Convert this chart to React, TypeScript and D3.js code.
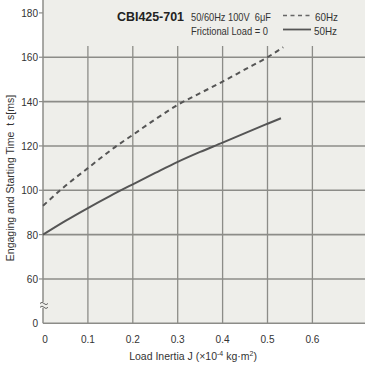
import * as d3 from "d3";

const W = 365;
const H = 366;

// load inertia J (x10^-4 kg·m²) vs engaging & starting time (ms)
const j60 = [0, 0.05, 0.1, 0.164, 0.2, 0.25, 0.3, 0.35, 0.4, 0.45, 0.5, 0.535];
const t60 = [93, 102, 110, 120, 125, 132, 138.5, 143.8, 149, 154.5, 160, 164.5];
const j50 = [0, 0.05, 0.1, 0.15, 0.2, 0.25, 0.3, 0.35, 0.4, 0.45, 0.5, 0.53];
const t50 = [80, 86.2, 92, 97.5, 102.7, 107.8, 112.8, 117.3, 121.5, 125.8, 130, 132.5];

const xTicks = [0, 0.1, 0.2, 0.3, 0.4, 0.5, 0.6];
const yTicks = [60, 80, 100, 120, 140, 160, 180];
// the axis is broken: "0" sits where 40 would be
const yBreakValue = 40;
const yBreakLabel = "0";

const FONT = "'Liberation Sans', Arial, sans-serif";

const App = () => {
  const left = 43;
  const bottom = 323.3;
  const x = d3.scaleLinear().domain([0, 0.1]).range([left, left + 44.9]);
  const y = d3.scaleLinear().domain([yBreakValue, 180]).range([bottom, 12.9]);

  const line = d3
    .line<[number, number]>()
    .x((d) => x(d[0]))
    .y((d) => y(d[1]))
    .curve(d3.curveMonotoneX);

  const d60 = line(j60.map((v, i) => [v, t60[i]]));
  const d50 = line(j50.map((v, i) => [v, t50[i]]));
  const gridTop = 46;
  const grey = "#8c8c88";
  const breakY = 305.5;
  const pre = { whiteSpace: "pre" as const };
  // condensed look: squeeze text to the widths measured on the original
  const sq = { lengthAdjust: "spacingAndGlyphs" as const };

  return (
    <div style={{ position: "absolute", left: 0, top: 0 }}>
      <svg width={W} height={H} style={{ display: "block" }} fontFamily={FONT}>
        <rect x={left} y={0} width={W - left} height={bottom} fill="#eeeeea" />

        {/* grid */}
        {yTicks.filter((v) => v < 180).map((v) => (
          <line key={"h" + v} x1={left} x2={W} y1={y(v)} y2={y(v)} stroke={grey} strokeWidth={1.6} />
        ))}
        {xTicks.filter((v) => v > 0).map((v) => (
          <line key={"v" + v} x1={x(v)} x2={x(v)} y1={gridTop} y2={bottom} stroke={grey} strokeWidth={1.3} />
        ))}

        {/* axes */}
        <line x1={left} x2={left} y1={0} y2={bottom} stroke={grey} strokeWidth={1.5} />
        <line x1={left} x2={W} y1={bottom} y2={bottom} stroke={grey} strokeWidth={1.5} />

        {/* axis break */}
        <rect x={left - 3} y={breakY - 3.5} width={8} height={6} fill="#eeeeea" />
        <path d={`M${left - 3},${breakY - 2} q2,-2.4 4,0 t4,0`} fill="none" stroke="#666" strokeWidth={1} />
        <path d={`M${left - 3},${breakY + 1.8} q2,-2.4 4,0 t4,0`} fill="none" stroke="#666" strokeWidth={1} />

        {/* y ticks */}
        {yTicks.map((v) => (
          <g key={"yt" + v}>
            <line x1={left - 4} x2={left} y1={y(v)} y2={y(v)} stroke={grey} strokeWidth={1.2} />
            <text x={left - 5} y={y(v) + 4} textAnchor="end" fontSize={11.5} fill="#333" textLength={String(v).length * 5.6} {...sq}>{v}</text>
          </g>
        ))}
        <text x={left - 5} y={y(yBreakValue) + 4} textAnchor="end" fontSize={11.5} fill="#333" textLength={5.6} {...sq}>{yBreakLabel}</text>

        {/* x ticks */}
        {xTicks.map((v) => {
          const s = v === 0 ? "0" : d3.format(".1f")(v);
          return (
            <text key={"xt" + v} x={x(v) + (v === 0 ? 2 : 0)} y={343} textAnchor="middle" fontSize={11.5} fill="#333" textLength={v === 0 ? 5.6 : 14} {...sq}>
              {s}
            </text>
          );
        })}

        {/* axis titles */}
        <text x={193} y={360} textAnchor="middle" fontSize={10.5} fill="#333">
          Load Inertia J (×10<tspan dy={-4} fontSize={7}>-4</tspan><tspan dy={4}> kg·m</tspan><tspan dy={-4} fontSize={7}>2</tspan><tspan dy={4}>)</tspan>
        </text>
        <text transform="translate(14,178) rotate(-90)" textAnchor="middle" fontSize={10.5} fill="#333" style={pre}>
          Engaging and Starting Time  t s[ms]
        </text>

        {/* curves */}
        <path d={d60 ?? ""} fill="none" stroke="#555" strokeWidth={2} strokeDasharray="5,4" />
        <path d={d50 ?? ""} fill="none" stroke="#555" strokeWidth={2} />

        {/* legend */}
        <text x={117} y={20.5} fontSize={12} fontWeight="bold" fill="#222" textLength={67} {...sq}>CBI425-701</text>
        <text x={191} y={21} fontSize={11.5} fill="#333" style={pre} textLength={80} {...sq}>50/60Hz 100V  6μF</text>
        <text x={191} y={34.5} fontSize={11.5} fill="#333" textLength={77} {...sq}>Frictional Load = 0</text>
        <line x1={283} x2={313} y1={15.5} y2={15.5} stroke="#666" strokeWidth={1.6} strokeDasharray="4,3.5" />
        <text x={315} y={21} fontSize={11.5} fill="#333" textLength={23} {...sq}>60Hz</text>
        <line x1={283} x2={311} y1={29.5} y2={29.5} stroke="#555" strokeWidth={1.8} />
        <text x={314} y={34.5} fontSize={11.5} fill="#333" textLength={23} {...sq}>50Hz</text>
      </svg>
    </div>
  );
};

export default App;
